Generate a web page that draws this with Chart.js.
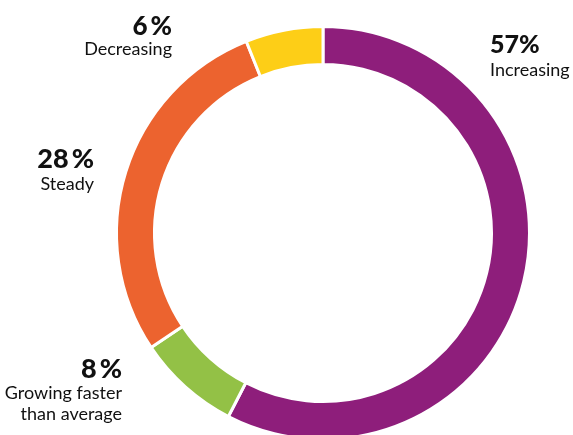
<!DOCTYPE html>
<html>
<head>
<meta charset="utf-8">
<script src="https://cdn.jsdelivr.net/npm/chart.js@4/dist/chart.umd.min.js"></script>
<style>
  html, body { margin: 0; padding: 0; background: #ffffff; overflow: hidden; }
  #wrap { width: 573px; height: 435px; }
</style>
</head>
<body>
<div id="wrap"><canvas id="chart" width="573" height="435"></canvas></div>
<script>
// Share of respondents by trend
const categories = ['Increasing', ['Growing faster', 'than average'], 'Steady', 'Decreasing'];
const shares = [57, 8, 28, 6];
const sliceColors = ['#8E1E7B', '#93C146', '#EC632F', '#FDCE17'];

// Where each slice's callout text sits
const calloutLayout = [
  { x: 490, y: 53, align: 'left',  numSize: 25, gap: 0, lineGap: 23 },
  { x: 122, y: 378, align: 'right', numSize: 27, gap: 3, lineGap: 21 },
  { x: 94,  y: 168, align: 'right', numSize: 27, gap: 3, lineGap: 22 },
  { x: 172, y: 35,  align: 'right', numSize: 26, gap: 3, lineGap: 20 }
];

const FONT = 'Lato, "Liberation Sans", Arial, sans-serif';

const callouts = {
  id: 'callouts',
  afterDraw(chart) {
    const ctx = chart.ctx;
    const values = chart.data.datasets[0].data;
    const labels = chart.data.labels;
    ctx.save();
    ctx.fillStyle = '#111111';
    ctx.textBaseline = 'alphabetic';
    values.forEach((v, i) => {
      const L = calloutLayout[i];
      // value with percent sign
      ctx.font = '900 ' + L.numSize + 'px ' + FONT;
      const num = String(v);
      const wNum = ctx.measureText(num).width;
      const wPct = ctx.measureText('%').width;
      const total = wNum + L.gap + wPct;
      const x0 = L.align === 'left' ? L.x : L.x - total;
      ctx.textAlign = 'left';
      ctx.fillText(num, x0, L.y);
      ctx.fillText('%', x0 + wNum + L.gap, L.y);
      // category name, one or more lines
      ctx.font = '18px ' + FONT;
      ctx.textAlign = L.align;
      const lines = Array.isArray(labels[i]) ? labels[i] : [labels[i]];
      lines.forEach((line, k) => {
        ctx.fillText(line, L.x, L.y + L.lineGap + k * 21);
      });
    });
    ctx.restore();
  }
};

new Chart(document.getElementById('chart'), {
  type: 'doughnut',
  data: {
    labels: categories,
    datasets: [{
      data: shares,
      backgroundColor: sliceColors,
      borderColor: '#ffffff',
      borderWidth: 3,
      hoverOffset: 0,
      radius: 206.5,
      cutout: '81.6%'
    }]
  },
  options: {
    responsive: false,
    animation: false,
    events: [],
    layout: { padding: { left: 73, right: 0, top: 31, bottom: 0 } },
    plugins: {
      legend: { display: false },
      tooltip: { enabled: false }
    }
  },
  plugins: [callouts]
});
</script>
</body>
</html>
